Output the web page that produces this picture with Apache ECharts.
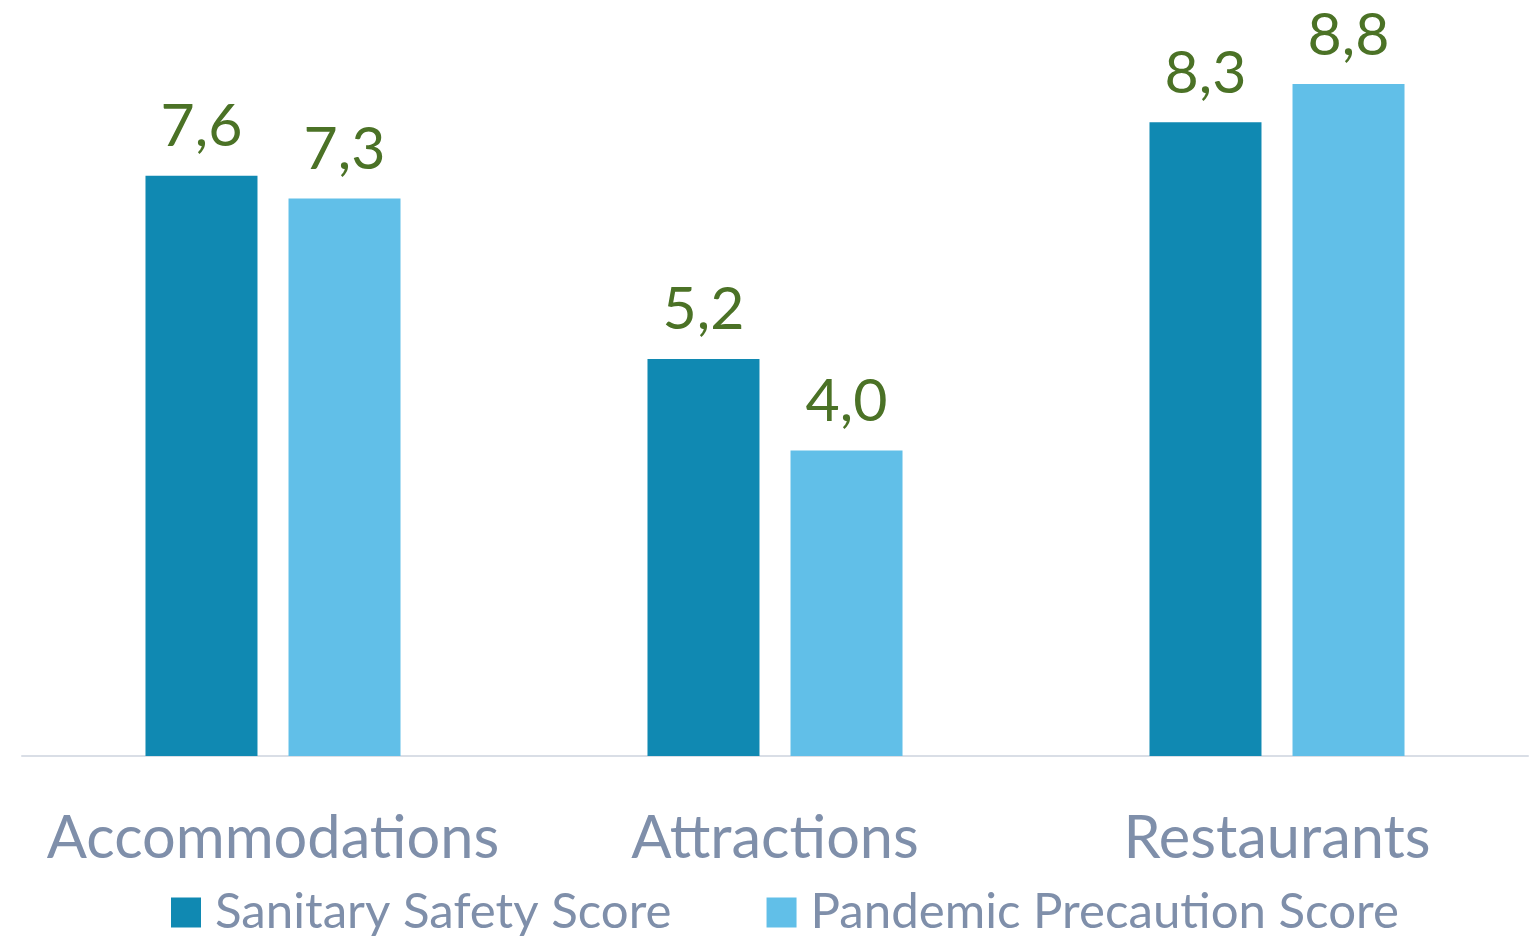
<!DOCTYPE html>
<html><head><meta charset="utf-8">
<script src="https://cdn.jsdelivr.net/npm/echarts@6/dist/echarts.min.js"></script>
<style>html,body{margin:0;padding:0;background:#fff}#c{width:1538px;height:936px}</style>
</head><body><div id="c"></div>
<script>
const categories = ['Accommodations', 'Attractions', 'Restaurants'];
const sanitarySafety = [7.6, 5.2, 8.3];
const pandemicPrecaution = [7.3, 4.0, 8.8];
const seriesNames = ['Sanitary Safety Score', 'Pandemic Precaution Score'];

const FONT = 'Lato';
const fmt = p => p.value.toFixed(1).replace('.', ',');
const chart = echarts.init(document.getElementById('c'));
const labelStyle = {show: true, position: 'top', distance: 19, formatter: fmt,
  color: '#4b7226', fontSize: 59, fontFamily: FONT};
chart.setOption({
  animation: false,
  grid: {left: 22, right: 10, top: 0, bottom: 180},
  legend: {bottom: -6, left: 166, itemWidth: 30, itemHeight: 30, itemGap: 95,
    icon: 'rect',
    textStyle: {color: '#7f8faa', fontSize: 49.2, fontFamily: FONT, padding: [0,0,0,9]}},
  xAxis: {type: 'category', data: categories,
    axisLine: {lineStyle: {color: '#d9dee6', width: 2}},
    axisTick: {show: false},
    axisLabel: {color: '#7f8faa', fontSize: 59.5, fontFamily: FONT, margin: 53, interval: 0}},
  yAxis: {type: 'value', min: 0, max: 9.9, show: false, splitLine: {show: false}},
  series: [
    {name: seriesNames[0], type: 'bar', data: sanitarySafety, barWidth: 112, barGap: '27.7%',
     itemStyle: {color: '#1089b2'}, label: labelStyle},
    {name: seriesNames[1], type: 'bar', data: pandemicPrecaution, barWidth: 112,
     itemStyle: {color: '#61bfe8'}, label: labelStyle}
  ]
});
</script></body></html>
